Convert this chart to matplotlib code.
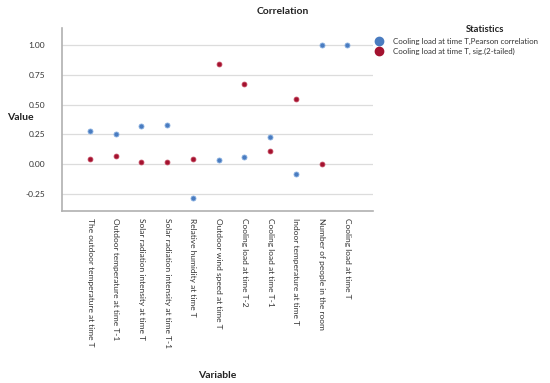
import matplotlib
matplotlib.use("Agg")
import matplotlib.pyplot as plt
from matplotlib.lines import Line2D

plt.rcParams["font.family"] = ["Lato", "DejaVu Sans"]

variables = [
    "The outdoor temperature at time T",
    "Outdoor temperature at time T-1",
    "Solar radiation intensity at time T",
    "Solar radiation intensity at time T-1",
    "Relative humidity at time T",
    "Outdoor wind speed at time T",
    "Cooling load at time T-2",
    "Cooling load at time T-1",
    "Indoor temperature at time T",
    "Number of people in the room",
    "Cooling load at time T",
]
pearson = [0.28, 0.255, 0.32, 0.33, -0.285, 0.03, 0.06, 0.23, -0.085, 1.0, 1.0]
sig = [0.045, 0.07, 0.02, 0.017, 0.043, 0.84, 0.67, 0.107, 0.55, 0.0, None]

C_BLUE = "#4a7cc0"
C_BLUE_EDGE = "#86aee0"
C_RED = "#a3122f"
C_GRID = "#dcdcdc"
C_SPINE = "#b0b0b0"
C_TEXT = "#333333"

fig = plt.figure(figsize=(5.5, 3.83), dpi=100)
ax = fig.add_axes([62 / 550, 1 - 211 / 383, (373 - 62) / 550, (211 - 28) / 383])

x = list(range(len(variables)))
sx = [i for i, v in zip(x, sig) if v is not None]
sy = [v for v in sig if v is not None]

ax.scatter(x, pearson, s=13, color=C_BLUE, edgecolor=C_BLUE_EDGE, linewidth=0.6, zorder=3)
ax.scatter(sx, sy, s=12, color=C_RED, edgecolor="#c04058", linewidth=0.6, zorder=3)

ax.set_xlim(-1.09, len(variables) - 1 + 1.0)
ax.set_ylim(-0.395, 1.145)
ax.set_yticks([-0.25, 0.0, 0.25, 0.5, 0.75, 1.0])
ax.set_yticklabels(["-0.25", "0.00", "0.25", "0.50", "0.75", "1.00"])
ax.set_xticks(x)
ax.set_xticklabels(variables, rotation=-90, va="top", ha="center")
ax.tick_params(axis="x", length=0, labelsize=6.0, colors=C_TEXT, pad=5)
ax.tick_params(axis="y", length=0, labelsize=6.0, colors=C_TEXT, pad=12)
ax.grid(axis="y", color=C_GRID, lw=0.9)
ax.set_axisbelow(True)
for s in ["top", "right"]:
    ax.spines[s].set_visible(False)
ax.spines["left"].set_color(C_SPINE)
ax.spines["bottom"].set_color(C_SPINE)
ax.spines["left"].set_linewidth(1.2)
ax.spines["bottom"].set_linewidth(1.2)

fig.text(283 / 550, 1 - 12 / 383, "Correlation", ha="center", va="center",
         fontsize=7.5, fontweight="bold", color="#222222")
fig.text(20 / 550, 1 - 118 / 383, "Value", ha="center", va="center",
         fontsize=7.5, fontweight="bold", color="#222222")
fig.text(217 / 550, 1 - 375 / 383, "Variable", ha="center", va="center",
         fontsize=7.5, fontweight="bold", color="#222222")

# legend
fig.text(485 / 550, 1 - 30 / 383, "Statistics", ha="center", va="center",
         fontsize=6.8, fontweight="bold", color="#222222")
labels = ["Cooling load at time T,Pearson correlation",
          "Cooling load at time T, sig.(2-tailed)"]
colors = [C_BLUE, C_RED]
for i, (lab, c) in enumerate(zip(labels, colors)):
    yy = 1 - (41 + 10 * i) / 383
    fig.add_artist(Line2D([379 / 550], [yy], marker="o", markersize=6,
                          color=c, markeredgecolor=c, linestyle="none"))
    fig.text(393 / 550, yy, lab, ha="left", va="center", fontsize=5.7, color=C_TEXT)

fig.savefig("out.png", dpi=100, facecolor="white")
